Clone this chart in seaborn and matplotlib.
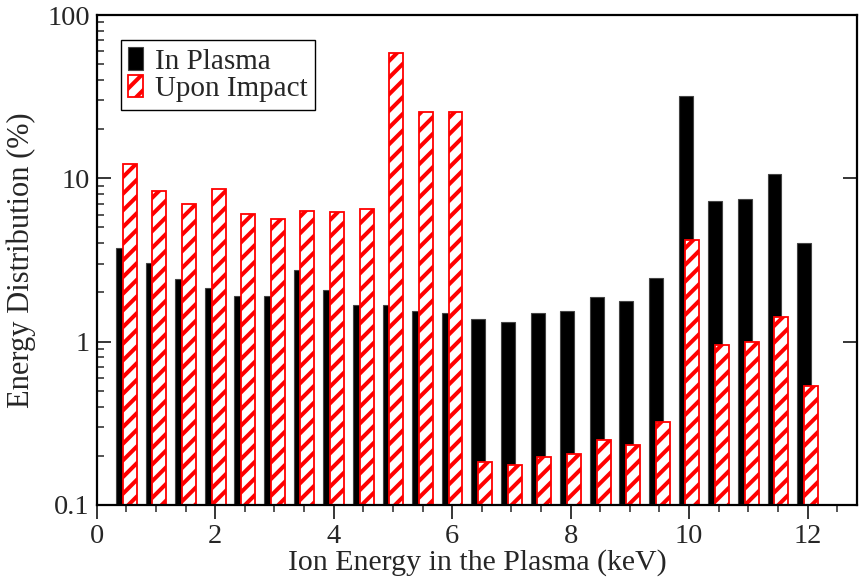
import numpy as np
import pandas as pd
import matplotlib
matplotlib.use("Agg")
import matplotlib.pyplot as plt
from matplotlib.ticker import MultipleLocator, LogLocator, NullFormatter
import seaborn as sns

# ---- data ----
energy_kev = [0.5, 1.0, 1.5, 2.0, 2.5, 3.0, 3.5, 4.0, 4.5, 5.0, 5.5, 6.0,
              6.5, 7.0, 7.5, 8.0, 8.5, 9.0, 9.5, 10.0, 10.5, 11.0, 11.5, 12.0]
in_plasma = [3.73, 3.05, 2.41, 2.13, 1.90, 1.90, 2.75, 2.07, 1.67, 1.67, 1.55, 1.50,
             1.37, 1.32, 1.50, 1.55, 1.89, 1.77, 2.47, 31.9, 7.28, 7.51, 10.7, 4.03]
upon_impact = [12.3, 8.33, 7.0, 8.65, 6.09, 5.62, 6.32, 6.2, 6.5, 58.9, 25.5, 25.3,
               0.183, 0.175, 0.197, 0.204, 0.249, 0.234, 0.324, 4.20, 0.959, 0.99, 1.41, 0.533]
series_labels = ["In Plasma", "Upon Impact"]
x_ticks = [0, 2, 4, 6, 8, 10, 12]
y_ticks = [0.1, 1, 10, 100]
y_tick_labels = ["0.1", "1", "10", "100"]

sns.set_style("ticks")
plt.rcParams["font.family"] = ["Liberation Serif", "DejaVu Serif"]
plt.rcParams["hatch.linewidth"] = 2.9

fig = plt.figure(figsize=(8.59, 5.84), dpi=100)
ax = fig.add_axes([0.1126, 0.1353, 0.8854, 0.8390])

energy = np.array(energy_kev)
shift = 0.057
df_p = pd.DataFrame({"x": energy - shift, "y": in_plasma})
df_i = pd.DataFrame({"x": energy + shift, "y": upon_impact})

sns.barplot(data=df_p, x="x", y="y", native_scale=True, orient="x", width=0.47,
            color="black", errorbar=None, ax=ax, label=series_labels[0],
            edgecolor="#444444", linewidth=0.8, saturation=1)
sns.barplot(data=df_i, x="x", y="y", native_scale=True, orient="x", width=0.47,
            color="white", errorbar=None, ax=ax, label=series_labels[1],
            edgecolor="red", linewidth=1.3, saturation=1)
for bar in ax.containers[1]:
    bar.set_hatch("//")
    bar.set_edgecolor("red")
    bar.set_facecolor("white")

ax.set_yscale("log")
ax.set_ylim(0.1, 100)
ax.set_xlim(0, 12.84)

ax.set_xticks(x_ticks)
ax.set_xticklabels([str(t) for t in x_ticks])
ax.xaxis.set_minor_locator(MultipleLocator(0.5))
ax.set_yticks(y_ticks)
ax.set_yticklabels(y_tick_labels)
ax.yaxis.set_minor_locator(LogLocator(base=10, subs=np.arange(2, 10)))
ax.yaxis.set_minor_formatter(NullFormatter())

ax.tick_params(axis="x", which="major", direction="out", length=10, width=1.3,
               labelsize=20.5, pad=4, top=False, bottom=True)
ax.tick_params(axis="x", which="minor", direction="out", length=5, width=1.1,
               top=False, bottom=True)
ax.tick_params(axis="y", which="major", direction="in", length=10, width=1.3,
               labelsize=20.5, left=True, right=True, pad=5)
ax.tick_params(axis="y", which="minor", direction="in", length=5, width=1.1,
               left=True, right=False)

for s in ["left", "bottom", "top", "right"]:
    ax.spines[s].set_visible(True)
    ax.spines[s].set_linewidth(1.6)
    ax.spines[s].set_color("black")

ax.set_xlabel("Ion Energy in the Plasma (keV)", fontsize=21.5, labelpad=0)
ax.set_ylabel("Energy Distribution (%)", fontsize=22, labelpad=8)

leg = ax.legend(loc="upper left", bbox_to_anchor=(0.032, 0.949), borderaxespad=0,
                fancybox=False, edgecolor="black", framealpha=1, fontsize=21,
                handlelength=0.5, handleheight=0.8, handletextpad=0.4,
                borderpad=0.25, labelspacing=0.02)
leg.get_frame().set_linewidth(1.0)

fig.savefig("out.png", dpi=100)
